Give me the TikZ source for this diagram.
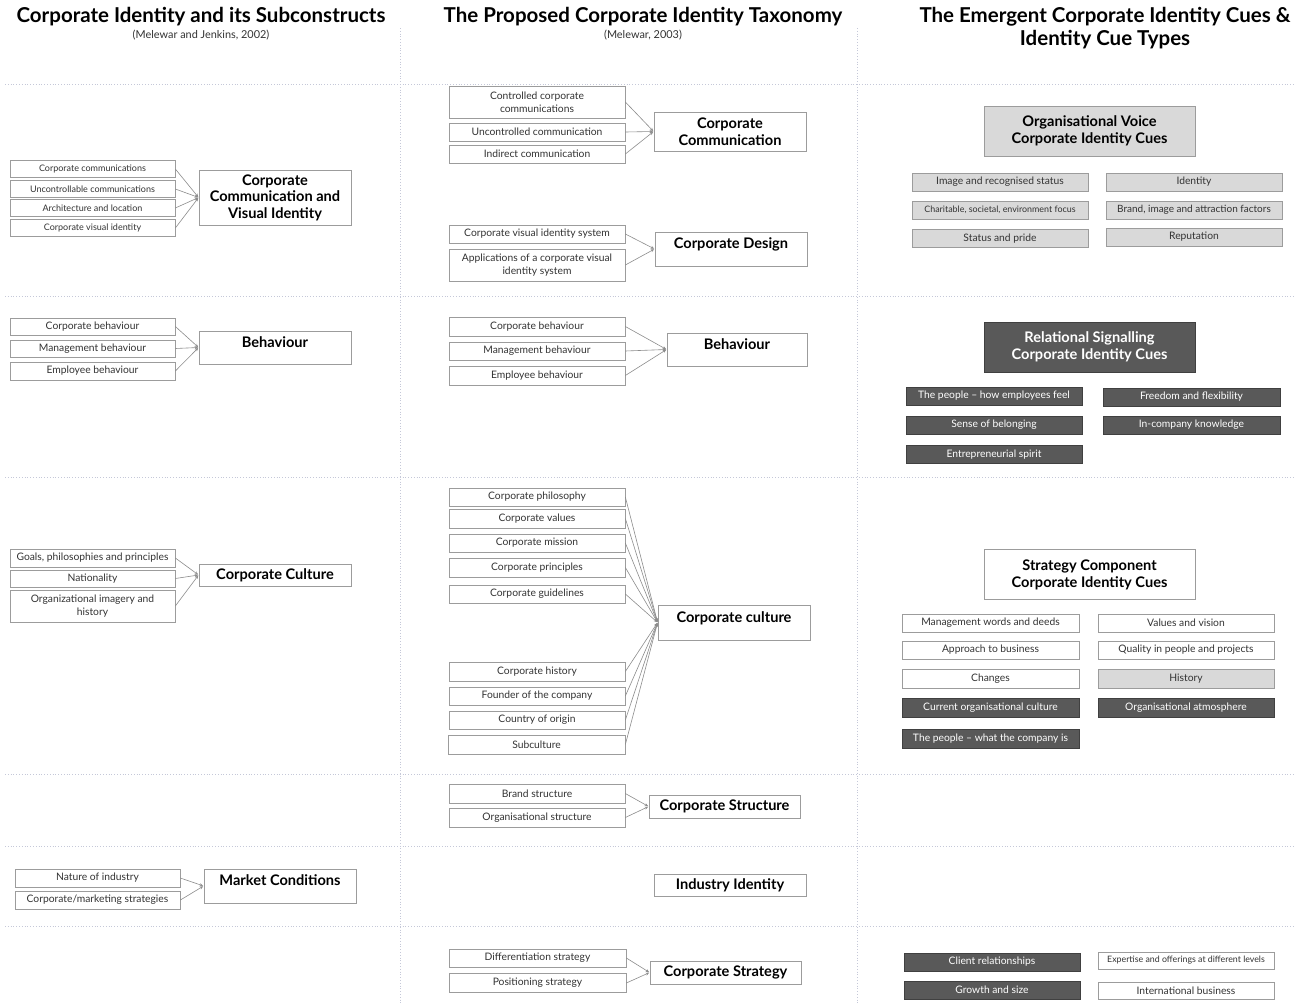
\documentclass[tikz,border=0pt]{standalone}
\usepackage{fontspec}
\setmainfont{Lato}
\usetikzlibrary{arrows.meta,shadows}
\definecolor{gridc}{HTML}{C5C8D8}
\definecolor{boxc}{HTML}{9C9C9C}
\definecolor{txt}{HTML}{333333}
\definecolor{lightf}{HTML}{D9D9D9}
\definecolor{darkf}{HTML}{595959}
\definecolor{darkb}{HTML}{404040}
\definecolor{linkc}{HTML}{8C8C8C}
\tikzset{
  gridline/.style={draw=gridc, line width=0.8pt, dotted},
  shade box/.style={general shadow={fill=black!22, shadow xshift=0.5pt, shadow yshift=-0.9pt}},
  sub/.style={draw=boxc, line width=0.7pt, fill=white, text=txt, align=center,
    inner sep=0pt, shade box, font=\fontsize{10.3}{13}\selectfont},
  subsm/.style={sub, font=\fontsize{9}{10}\selectfont},
  lightbox/.style={sub, fill=lightf, draw=boxc},
  darkbox/.style={sub, fill=darkf, draw=darkb, text=white},
  wd/.style={minimum width=#1pt},
  ht/.style={minimum height=#1pt},
  big/.style={draw=boxc, line width=0.8pt, fill=white, text=black, align=center,
    inner sep=0pt, shade box, font=\bfseries\fontsize{14.6}{16.5}\selectfont},
  topbox/.style={text height=16pt, text depth=#1pt},
  cue/.style={big, minimum width=211pt, minimum height=50pt, font=\bfseries\fontsize{14.6}{17}\selectfont},
  link/.style={draw=linkc, line width=0.6pt, -{Stealth[length=3.5pt,width=3pt]}, shorten >=0.5pt},
  title/.style={font=\bfseries\fontsize{20.5}{23}\selectfont, align=center, text=black},
  cite/.style={font=\fontsize{10.9}{12}\selectfont, text=txt},
}
\begin{document}
\begin{tikzpicture}[x=1pt,y=-1pt]
\useasboundingbox[fill=white] (0,0) rectangle (1299,1004);

% column and row separators
\foreach \yy in {84,296,477,774,846,926}
  \draw[gridline] (5,\yy) -- (1295,\yy);
\draw[gridline] (400,28) -- (400,1004);
\draw[gridline] (857,28) -- (857,1004);

% column headings
\node[title] (t1) at (201,17) {Corporate Identity and its Subconstructs};
\node[cite]  (c1) at (201,35) {(Melewar and Jenkins, 2002)};
\node[title] (t2) at (643,17) {The Proposed Corporate Identity Taxonomy};
\node[cite]  (c2) at (643,35) {(Melewar, 2003)};
\node[title] (t3) at (1105,28.5) {The Emergent Corporate Identity Cues \&\\Identity Cue Types};

% ---------- left column: subconstructs ----------
\node[subsm, wd=165, ht=17] (l1a) at (92.5,169) {Corporate communications};
\node[subsm, wd=165, ht=17] (l1b) at (92.5,189) {Uncontrollable communications};
\node[subsm, wd=165, ht=17] (l1c) at (92.5,208) {Architecture and location};
\node[subsm, wd=165, ht=17] (l1d) at (92.5,228) {Corporate visual identity};
\node[big, wd=152, ht=55] (L1) at (275,197.5) {Corporate\\Communication and\\Visual Identity};
\foreach \s in {l1a,l1b,l1c,l1d} \draw[link] (\s.east) -- (L1.west);

\node[sub, wd=165, ht=17] (l2a) at (92.5,326.5) {Corporate behaviour};
\node[sub, wd=165, ht=17] (l2b) at (92.5,348.5) {Management behaviour};
\node[sub, wd=165, ht=18] (l2c) at (92.5,371) {Employee behaviour};
\node[big, wd=152, topbox=17] (L2) at (275,347.5) {Behaviour};
\foreach \s in {l2a,l2b,l2c} \draw[link] (\s.east) -- (L2.west);

\node[sub, wd=165, ht=18] (l3a) at (92.5,558) {Goals, philosophies and principles};
\node[sub, wd=165, ht=17] (l3b) at (92.5,578.5) {Nationality};
\node[sub, wd=165, ht=32] (l3c) at (92.5,606) {Organizational imagery and\\history};
\node[big, wd=152, ht=22] (L3) at (275,575) {Corporate Culture};
\foreach \s in {l3a,l3b,l3c} \draw[link] (\s.east) -- (L3.west);

\node[sub, wd=165, ht=18] (l5a) at (97.5,878) {Nature of industry};
\node[sub, wd=165, ht=18] (l5b) at (97.5,900) {Corporate/marketing strategies};
\node[big, wd=152, topbox=18] (L5) at (280,886) {Market Conditions};
\foreach \s in {l5a,l5b} \draw[link] (\s.east) -- (L5.west);

% ---------- middle column: taxonomy ----------
\node[sub, wd=176, ht=32] (m1a) at (537,102) {Controlled corporate\\communications};
\node[sub, wd=176, ht=18] (m1b) at (537,132) {Uncontrolled communication};
\node[sub, wd=176, ht=18] (m1c) at (537,154) {Indirect communication};
\node[big, wd=152, ht=39] (M1) at (730,131.5) {Corporate\\Communication};
\foreach \s in {m1a,m1b,m1c} \draw[link] (\s.east) -- (M1.west);

\node[sub, wd=176, ht=18] (m2a) at (537,234) {Corporate visual identity system};
\node[sub, wd=176, ht=32] (m2b) at (537,265) {Applications of a corporate visual\\identity system};
\node[big, wd=152, topbox=18] (M2) at (731,249) {Corporate Design};
\foreach \s in {m2a,m2b} \draw[link] (\s.east) -- (M2.west);

\node[sub, wd=176, ht=19] (m3a) at (537,326.5) {Corporate behaviour};
\node[sub, wd=176, ht=18] (m3b) at (537,351) {Management behaviour};
\node[sub, wd=176, ht=19] (m3c) at (537,375.5) {Employee behaviour};
\node[big, wd=140, topbox=17] (M3) at (737,349.5) {Behaviour};
\foreach \s in {m3a,m3b,m3c} \draw[link] (\s.east) -- (M3.west);

\node[sub, wd=176, ht=18] (m4a) at (537,497) {Corporate philosophy};
\node[sub, wd=176, ht=19] (m4b) at (537,518.5) {Corporate values};
\node[sub, wd=176, ht=18] (m4c) at (537,543) {Corporate mission};
\node[sub, wd=176, ht=19] (m4d) at (537,567.5) {Corporate principles};
\node[sub, wd=176, ht=18] (m4e) at (537,594) {Corporate guidelines};
\node[sub, wd=176, ht=19] (m4f) at (537,671.5) {Corporate history};
\node[sub, wd=176, ht=18] (m4g) at (537,696) {Founder of the company};
\node[sub, wd=176, ht=18] (m4h) at (537,720) {Country of origin};
\node[sub, wd=177, ht=19] (m4i) at (536.5,744.5) {Subculture};
\node[big, wd=152, text height=17pt, text depth=18pt] (M4) at (734,622.5) {Corporate culture};
\foreach \s in {m4a,m4b,m4c,m4d,m4e,m4f,m4g,m4h,m4i} \draw[link] (\s.east) -- (M4.west);

\node[sub, wd=176, ht=19] (m5a) at (537,793.5) {Brand structure};
\node[sub, wd=176, ht=19] (m5b) at (537,817.5) {Organisational structure};
\node[big, wd=151, ht=23] (M5) at (724.5,806.5) {Corporate Structure};
\foreach \s in {m5a,m5b} \draw[link] (\s.east) -- (M5.west);

\node[big, wd=152, ht=22] (M6) at (730,885) {Industry Identity};

\node[sub, wd=177, ht=18] (m7a) at (537.5,958) {Differentiation strategy};
\node[sub, wd=177, ht=19] (m7b) at (537.5,983) {Positioning strategy};
\node[big, wd=151, ht=23] (M7) at (725.5,972.5) {Corporate Strategy};
\foreach \s in {m7a,m7b} \draw[link] (\s.east) -- (M7.west);

% ---------- right column: emergent cues ----------
\node[cue, fill=lightf] (R1) at (1089.5,131) {Organisational Voice\\Corporate Identity Cues};
\node[lightbox, wd=176, ht=18] (r1a) at (1000,182) {Image and recognised status};
\node[lightbox, wd=176, ht=18, font=\fontsize{8.9}{10}\selectfont] (r1b) at (1000,210) {Charitable, societal, environment focus};
\node[lightbox, wd=176, ht=18] (r1c) at (1000,238.5) {Status and pride};
\node[lightbox, wd=176, ht=18] (r1d) at (1194,182) {Identity};
\node[lightbox, wd=176, ht=18, font=\fontsize{10}{11}\selectfont] (r1e) at (1194,210) {Brand, image and attraction factors};
\node[lightbox, wd=176, ht=18] (r1f) at (1194,237) {Reputation};

\node[cue, fill=darkf, draw=darkb, text=white] (R2) at (1089.5,347) {Relational Signalling\\Corporate Identity Cues};
\node[darkbox, wd=176, ht=18] (r2a) at (994,396) {The people -- how employees feel};
\node[darkbox, wd=176, ht=18] (r2b) at (994,425) {Sense of belonging};
\node[darkbox, wd=176, ht=18] (r2c) at (994,454.5) {Entrepreneurial spirit};
\node[darkbox, wd=177, ht=18] (r2d) at (1191.5,397) {Freedom and flexibility};
\node[darkbox, wd=177, ht=18] (r2e) at (1191.5,425) {In-company knowledge};

\node[cue] (R3) at (1089.5,574.5) {Strategy Component\\Corporate Identity Cues};
\node[sub, wd=177, ht=18] (r3a) at (990.5,623) {Management words and deeds};
\node[sub, wd=177, ht=18] (r3b) at (990.5,650) {Approach to business};
\node[sub, wd=177, ht=19] (r3c) at (990.5,679) {Changes};
\node[darkbox, wd=177, ht=19] (r3d) at (990.5,707.5) {Current organisational culture};
\node[darkbox, wd=177, ht=19] (r3e) at (990.5,739) {The people -- what the company is};
\node[sub, wd=176, ht=18] (r3f) at (1186,623) {Values and vision};
\node[sub, wd=176, ht=18] (r3g) at (1186,650) {Quality in people and projects};
\node[lightbox, wd=176, ht=19] (r3h) at (1186,678.5) {History};
\node[darkbox, wd=176, ht=19] (r3i) at (1186,707.5) {Organisational atmosphere};

\node[darkbox, wd=176, ht=18] (r4a) at (992,962) {Client relationships};
\node[darkbox, wd=176, ht=18] (r4b) at (992,990) {Growth and size};
\node[sub, wd=176, ht=17, font=\fontsize{8.8}{10}\selectfont] (r4c) at (1186,960.5) {Expertise and offerings at different levels};
\node[sub, wd=176, ht=17] (r4d) at (1186,990.5) {International business};
\end{tikzpicture}
\end{document}
